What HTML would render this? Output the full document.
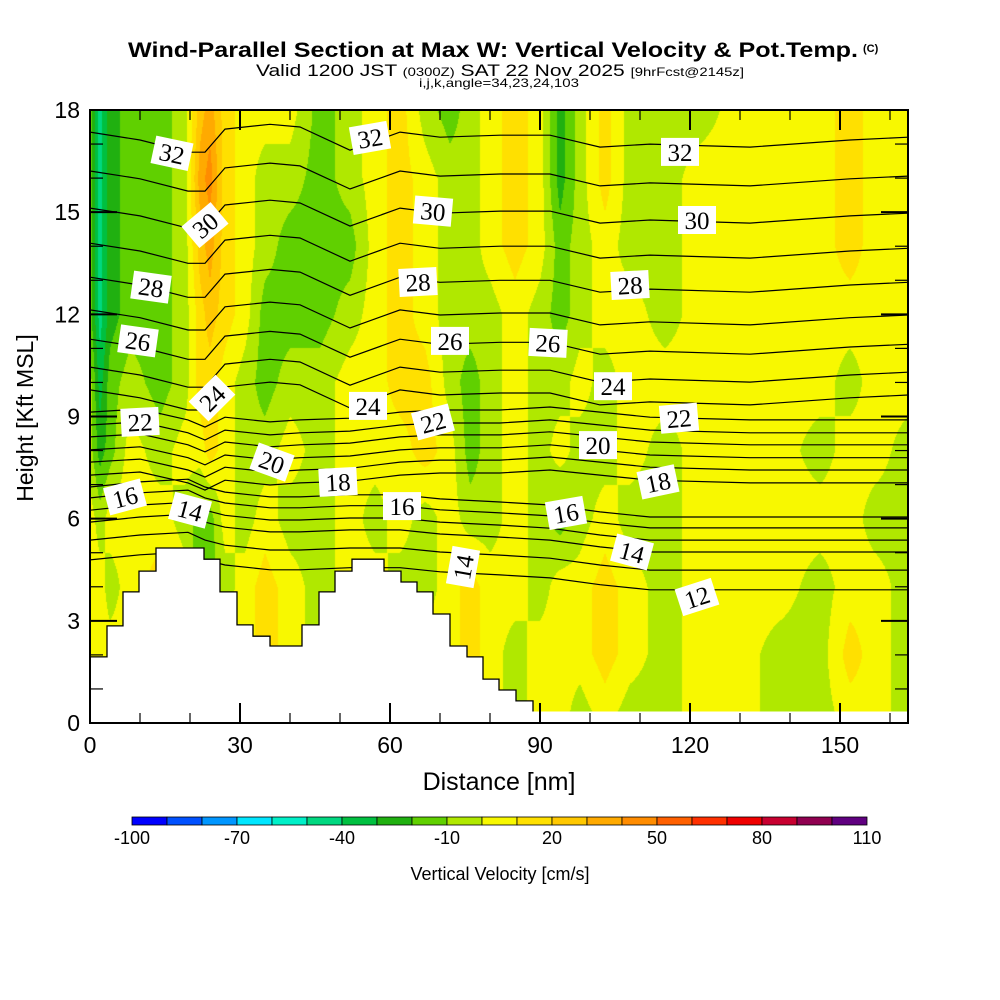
<!DOCTYPE html>
<html><head><meta charset="utf-8">
<style>
html,body{margin:0;padding:0;background:#fff;}
#wrap{position:relative;width:1000px;height:1000px;overflow:hidden;background:#fff;}
#field{position:absolute;left:90px;top:110px;}
#ov{position:absolute;left:0;top:0;}
text{font-family:"Liberation Sans",sans-serif;}
</style></head>
<body>
<div id="wrap">
<canvas id="field" width="818" height="602"></canvas>
<svg id="ov" width="1000" height="1000" xmlns="http://www.w3.org/2000/svg">
  <defs><clipPath id="plotclip"><rect x="90" y="110" width="818" height="602"/></clipPath></defs>
  <g>
    <text x="128" y="57" font-size="21" font-weight="bold" textLength="730" lengthAdjust="spacingAndGlyphs">Wind-Parallel Section at Max W: Vertical Velocity &amp; Pot.Temp.</text>
    <text x="863" y="52" font-size="11" font-weight="bold">(C)</text>
    <text x="256" y="76" font-size="17" textLength="488" lengthAdjust="spacingAndGlyphs">Valid 1200 JST <tspan font-size="12">(0300Z)</tspan> SAT 22 Nov 2025 <tspan font-size="12">[9hrFcst@2145z]</tspan></text>
    <text x="419" y="87" font-size="12" textLength="160" lengthAdjust="spacingAndGlyphs">i,j,k,angle=34,23,24,103</text>
  </g>
  <g id="contours" clip-path="url(#plotclip)"></g>
  <g id="terrain"></g>
  <g id="clabels"></g>
  <g id="axes"></g>
  <g id="cbar"></g>
  <text x="499" y="790" font-size="25" text-anchor="middle">Distance [nm]</text>
  <text transform="translate(33,418) rotate(-90)" font-size="23" text-anchor="middle">Height [Kft MSL]</text>
  <text x="500" y="880" font-size="18" text-anchor="middle">Vertical Velocity [cm/s]</text>
</svg>
</div>
<script>
// ---- data ----
const wCols = [0,2,4,8,14,19,22,24,27,31,35,40,46,52,57,62,67,72,76,80,85,90,94,98,103,108,115,122,130,138,146,152,157,163.6];
const wHeights = [18,16,14,12,10,8,6,4,2,0.3];
const wRow18 = [-15,-45,-25,-15,-15,-5,25,35,15,5,5,5,-15,-5,5,15,-5,-15,-5,5,15,5,-25,-5,15,-5,-5,-5,5,5,5,15,5,5];
const wRow16 = [-15,-45,-25,-15,-15,-5,35,45,15,5,-5,-5,-15,-5,5,15,5,-5,-5,5,15,5,-25,-5,15,-5,-5,5,5,5,5,15,5,5];
const wRow14 = [-15,-45,-25,-15,-15,-5,25,35,15,5,-5,-15,-15,-15,5,15,5,-5,-5,5,15,5,-15,-5,5,-5,-5,5,5,5,5,15,5,5];
const wRow12 = [-15,-45,-25,-15,-15,-5,15,25,15,5,-15,-15,-15,-5,5,15,5,-5,-5,-5,5,-5,-15,-5,5,5,-5,5,5,5,5,5,5,5];
const wRow10 = [-5,-35,-15,-5,-15,-5,15,15,5,-5,-15,-5,-5,5,5,15,15,-5,-15,-5,5,-5,-5,5,-5,5,5,5,5,5,5,-5,5,5];
const wRow8  = [-5,-25,-15,5,-5,5,5,15,5,-5,-5,5,-5,5,5,5,15,5,-15,-5,5,-5,5,-5,-5,5,-5,5,5,5,-5,5,5,-5];
const wRow6  = [5,-5,5,5,5,-5,-15,-15,5,-5,5,-5,-5,5,-5,5,-5,5,-5,-5,5,-5,-15,-5,5,-5,-5,5,5,5,5,5,-5,-5];
const wRow4  = [5,5,-5,5,15,5,-25,-15,-5,5,15,5,-5,5,5,-5,-5,5,15,5,5,-5,5,5,15,5,-5,5,5,5,-5,5,5,-5];
const wRow2  = [5,5,5,5,5,5,5,5,5,5,15,5,-5,5,5,5,5,5,15,5,-5,5,5,5,15,5,-5,5,5,-5,-5,15,5,-5];
const wRow0  = [5,5,5,5,5,5,5,5,5,5,15,5,-5,5,5,5,5,5,15,5,-5,5,5,-5,5,-5,-5,5,5,-5,-5,5,5,-5];

const cbarColors = ["#0000ff","#0050ff","#0096ff","#00e6ff","#00f0c8","#00d880","#00c040","#20b010","#60d000","#b0e800","#f8f800","#ffe000","#ffc800","#ffaa00","#ff8c00","#ff6000","#ff3000","#f00000","#c80030","#900050","#600080"];
const cbarMin = -100, cbarStep = 10;
const cbarTickValues = [-100,-70,-40,-10,20,50,80,110];

const thetaLevels = [12,13,14,15,16,17,18,19,20,21,22,23,24,25,26,27,28,29,30,31,32];
const thetaBaseKft = [4.79,5.37,5.90,6.25,6.61,6.93,7.28,7.66,8.02,8.40,8.75,9.13,9.78,10.45,11.27,12.13,13.09,14.09,15.12,16.21,17.35];
const thetaCols = [0,10,19.6,23,27,36,42,52,62,70,82,92,102,112,132,152,163.6];
const shapeUpper = [0,-0.23,-0.59,-0.59,0.09,0.23,0.15,-0.53,0,-0.15,-0.09,-0.09,-0.44,-0.35,-0.44,-0.23,-0.15];
const shapeMid   = [0,0.09,-0.23,-0.44,-0.15,-0.29,-0.23,-0.18,0,0.06,0.06,0.15,0,-0.15,-0.23,-0.23,-0.23];
const shapeLow   = [0,0.15,0.23,0,-0.15,-0.29,-0.29,-0.23,-0.23,-0.35,-0.44,-0.53,-0.73,-0.88,-0.88,-0.88,-0.88];

const labelText = ["32","32","32","30","30","30","28","28","28","26","26","26","24","24","24","22","22","22","20","20","18","18","16","16","16","14","14","14","12"];
const labelDist = [16.4,56,118,23,68.6,121.4,12.2,65.6,108,9.6,72,91.6,24.4,55.6,104.6,10,68.6,117.8,36.4,101.6,49.6,113.6,7,62.4,95.2,20,74.6,108.4,121.4];
const labelKft  = [16.73,17.18,16.77,14.62,15.03,14.77,12.8,12.95,12.86,11.22,11.22,11.16,9.54,9.31,9.89,8.84,8.84,8.95,7.66,8.16,7.08,7.08,6.64,6.37,6.17,6.25,4.58,5.02,3.70];
const labelAngle= [12,-10,0,-40,5,0,8,-3,-3,8,0,3,-45,0,0,-3,-15,-5,20,0,-3,-12,-15,0,-10,15,-80,15,-18];

const terrainStart = [0,3.4,6.6,9.8,13.2,22.8,26,29.4,32.6,36,42.4,45.8,49,52.4,58.8,62.2,65.4,68.6,72,75.4,78.6,81.8,85.2];
const terrainKft   = [1.94,2.85,3.85,4.46,5.14,4.81,3.85,2.88,2.55,2.26,2.88,3.85,4.46,4.81,4.46,4.14,3.85,3.2,2.26,1.94,1.29,0.97,0.65];
const terrainEnd = 88.6;

const xTicksMajor = [0,30,60,90,120,150];
const yTicksMajor = [0,3,6,9,12,15,18];

// ---- scales ----
const X0=90, X1=908, Y0=723, Y1=110;
const xMax = 163.6;
function xs(d){ return X0 + d*5; }
function ys(h){ return Y0 - h*(Y0-Y1)/18; }
const NS="http://www.w3.org/2000/svg";
function mk(tag, attrs, parent){ const e=document.createElementNS(NS,tag); for(const k in attrs) e.setAttribute(k, attrs[k]); if(parent) parent.appendChild(e); return e; }

// ---- field ----
const wRows=[wRow18,wRow16,wRow14,wRow12,wRow10,wRow8,wRow6,wRow4,wRow2,wRow0];
(function(){
  const cv=document.getElementById('field'); const ctx=cv.getContext('2d');
  const W=cv.width,H=cv.height; const img=ctx.createImageData(W,H);
  const rgb=cbarColors.map(c=>[parseInt(c.substr(1,2),16),parseInt(c.substr(3,2),16),parseInt(c.substr(5,2),16)]);
  const colIdx=[],colT=[];
  for(let px=0;px<W;px++){ const d=(px+0.5)/5; let j=0; while(j<wCols.length-2 && d>wCols[j+1]) j++; let t=(d-wCols[j])/(wCols[j+1]-wCols[j]); colIdx.push(j); colT.push(Math.max(0,Math.min(1,t))); }
  for(let py=0;py<H;py++){
    const h=(Y0-(Y1+py+0.5))*18/(Y0-Y1);
    let i=0; while(i<wHeights.length-2 && h<wHeights[i+1]) i++;
    let u=(wHeights[i]-h)/(wHeights[i]-wHeights[i+1]); u=Math.max(0,Math.min(1,u));
    const ra=wRows[i], rb=wRows[i+1];
    for(let px=0;px<W;px++){
      const j=colIdx[px], t=colT[px];
      const a=ra[j]*(1-t)+ra[j+1]*t, b=rb[j]*(1-t)+rb[j+1]*t;
      const w=a*(1-u)+b*u;
      let k=Math.floor((w-cbarMin)/cbarStep); k=Math.max(0,Math.min(cbarColors.length-1,k));
      const o=(py*W+px)*4; img.data[o]=rgb[k][0]; img.data[o+1]=rgb[k][1]; img.data[o+2]=rgb[k][2]; img.data[o+3]=255;
    }
  }
  ctx.putImageData(img,0,0);
})();

// ---- contours ----
const cg=document.getElementById('contours');
thetaLevels.forEach((lv,i)=>{
  const shape = lv<=17 ? shapeLow : (lv<=23 ? shapeMid : shapeUpper);
  const pts = thetaCols.map((d,j)=> xs(d).toFixed(1)+','+ys(thetaBaseKft[i]+shape[j]).toFixed(1)).join(' ');
  const pl=mk('polyline',{points:pts,fill:'none',stroke:'#000','stroke-width':'1.2'},cg);
  
  
});

// ---- terrain ----
(function(){
  const tg=document.getElementById('terrain');
  const floorY=712;
  let pts=[[xs(0),floorY]];
  for(let i=0;i<terrainStart.length;i++){
    const d0=terrainStart[i], d1=(i+1<terrainStart.length)?terrainStart[i+1]:terrainEnd;
    pts.push([xs(d0),ys(terrainKft[i])]); pts.push([xs(d1),ys(terrainKft[i])]);
  }
  pts.push([xs(terrainEnd),floorY]);
  const ptsStr=pts.map(q=>q[0].toFixed(1)+','+q[1].toFixed(1)).join(' ');
  const p=mk('polygon',{points:ptsStr,fill:'#fff',stroke:'none'},tg);
  
  
  const edge=mk('polyline',{points:pts.slice(1).map(q=>q[0].toFixed(1)+','+q[1].toFixed(1)).join(' '),fill:'none',stroke:'#000','stroke-width':'1.3'},tg);
  
  
  const strip=mk('rect',{x:90,y:711.5,width:818,height:12,fill:'#fff'},tg);
  
  
})();

// ---- contour labels ----
(function(){
  const lg=document.getElementById('clabels');
  labelText.forEach((t,i)=>{
    const g=mk('g',{transform:'translate('+xs(labelDist[i]).toFixed(1)+','+ys(labelKft[i]).toFixed(1)+') rotate('+labelAngle[i]+')'},lg);
    
    
    mk('rect',{x:-19,y:-14,width:38,height:28,fill:'#fff'},g);
    const tx=mk('text',{x:0,y:9,'font-size':'25','text-anchor':'middle',style:'font-family:"Liberation Serif",serif'},g);
    tx.textContent=t;
  });
})();

// ---- axes ----
(function(){
  const ag=document.getElementById('axes');
  const fr=mk('rect',{x:X0,y:Y1,width:X1-X0,height:Y0-Y1,fill:'none',stroke:'#000','stroke-width':'2'},ag);
  
  
  for(let d=0; d<=xMax; d+=10){
    const major = xTicksMajor.indexOf(d)>=0; const L=major?20:10;
    mk('line',{x1:xs(d),x2:xs(d),y1:Y0,y2:Y0-L,stroke:'#000','stroke-width':major?2:1.2},ag);
    mk('line',{x1:xs(d),x2:xs(d),y1:Y1,y2:Y1+L,stroke:'#000','stroke-width':major?2:1.2},ag);
  }
  xTicksMajor.forEach(d=>{
    const t=mk('text',{x:xs(d),y:753,'font-size':'23','text-anchor':'middle'},ag);
    
    
    t.textContent=d;
  });
  for(let h=0; h<=18; h+=1){
    const major = yTicksMajor.indexOf(h)>=0; const L=major?27:13;
    mk('line',{x1:X0,x2:X0+L,y1:ys(h),y2:ys(h),stroke:'#000','stroke-width':major?2:1.2},ag);
    mk('line',{x1:X1,x2:X1-L,y1:ys(h),y2:ys(h),stroke:'#000','stroke-width':major?2:1.2},ag);
  }
  yTicksMajor.forEach(h=>{
    const t=mk('text',{x:80,y:ys(h)+8,'font-size':'23','text-anchor':'end'},ag);
    
    
    t.textContent=h;
  });
})();

// ---- colorbar ----
(function(){
  const g=document.getElementById('cbar');
  const cx0=132, cw=35, cy=817, ch=8;
  cbarColors.forEach((c,i)=>{
    const r=mk('rect',{x:cx0+i*cw,y:cy,width:cw,height:ch,fill:c,stroke:'#000','stroke-width':'0.8'},g);
    
    
  });
  cbarTickValues.forEach(v=>{
    const t=mk('text',{x:cx0+(v-cbarMin)/cbarStep*cw,y:844,'font-size':'18','text-anchor':'middle'},g);
    
    
    t.textContent=v;
  });
})();
</script>
</body></html>
